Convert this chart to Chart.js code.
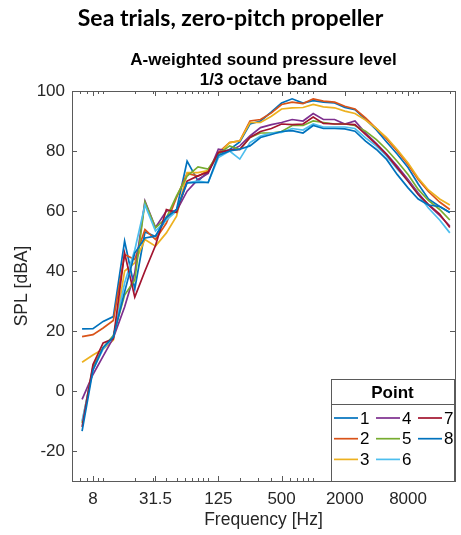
<!DOCTYPE html>
<html>
<head>
<meta charset="utf-8">
<script src="https://cdn.jsdelivr.net/npm/chart.js@4.4.0/dist/chart.umd.min.js"></script>
<style>
  html, body { margin: 0; padding: 0; background: #fff; }
  #wrap { position: relative; width: 461px; height: 535px; }
  #slideTitle { position: absolute; left: 0; top: 3px; width: 461px; text-align: center;
    font: bold 23px/28px Lato, "Open Sans", sans-serif; color: #000; z-index: 2; }
  #figTitle { position: absolute; left: 72px; top: 50px; width: 383px; text-align: center;
    font: bold 17px/20px "Liberation Sans", Arial, sans-serif; color: #000; z-index: 2; }
  #c { position: absolute; left: 0; top: 0; }
</style>
</head>
<body>
<div id="wrap">
  <div id="slideTitle">Sea trials, zero-pitch propeller</div>
  <div id="figTitle">A-weighted sound pressure level<br>1/3 octave band</div>
  <canvas id="c" width="461" height="535"></canvas>
</div>
<script>
// 1/3 octave band centre frequencies [Hz]
const bands = [6.3, 8, 10, 12.5, 16, 20, 25, 31.5, 40, 50, 63, 80, 100, 125, 160, 200, 250, 315,
  400, 500, 630, 800, 1000, 1250, 1600, 2000, 2500, 3150, 4000, 5000, 6300, 8000, 10000, 12500, 16000, 20000];

// SPL [dBA] per measurement point
const point1 = [20.7, 20.8, 23.2, 24.8, 50.0, 34.0, 53.0, 51.5, 57.5, 60.5, 76.6, 70.0, 73.0, 79.0, 80.5, 83.0,
  89.0, 90.0, 93.0, 96.0, 97.4, 96.0, 96.8, 96.3, 96.0,
  94.5, 93.8, 90.5, 87.0, 83.0, 79.0, 74.5, 69.0, 64.0, 61.5, 59.5];
const point2 = [18.1, 18.8, 21.0, 23.5, 45.5, 43.8, 53.8, 50.5, 56.0, 64.5, 72.5, 71.6, 73.5, 79.5, 82.8, 83.4,
  90.0, 90.5, 92.7, 95.5, 96.3, 95.8, 97.4, 96.6, 96.3,
  94.9, 94.0, 91.0, 87.5, 84.0, 80.0, 75.5, 70.5, 66.5, 63.0, 60.5];
const point3 = [9.6, 12.0, 14.0, 17.0, 40.0, 42.7, 50.5, 48.3, 52.7, 58.3, 72.8, 72.8, 73.5, 79.0, 82.8, 83.4,
  89.5, 89.5, 91.6, 94.0, 94.4, 94.5, 95.5, 94.7, 94.4,
  93.3, 92.5, 90.3, 87.5, 84.5, 80.5, 76.0, 71.0, 67.0, 64.0, 62.0];
const point4 = [-2.8, 5.5, 11.6, 17.7, 28.0, 39.4, 63.3, 54.5, 60.0, 60.0, 66.6, 70.5, 72.5, 80.6, 80.0, 81.7,
  85.0, 87.8, 88.8, 89.5, 90.5, 90.0, 92.5, 90.5, 90.5,
  89.0, 90.0, 86.0, 82.5, 79.0, 75.0, 70.5, 66.0, 62.0, 58.5, 55.0];
const point5 = [-10.6, 8.0, 14.5, 18.5, 32.0, 37.0, 63.0, 54.4, 57.7, 65.0, 71.6, 74.7, 74.0, 79.0, 81.7, 80.5,
  84.5, 86.0, 86.0, 86.5, 88.5, 88.5, 90.0, 89.5, 89.0,
  89.0, 88.5, 86.6, 83.8, 80.5, 76.6, 72.2, 67.2, 63.5, 60.5, 57.0];
const point6 = [-10.0, 7.0, 14.0, 18.0, 36.0, 47.0, 62.0, 53.3, 57.0, 60.0, 69.4, 70.0, 69.5, 77.8, 80.0, 77.3,
  82.8, 85.0, 86.0, 86.2, 87.5, 87.0, 89.0, 88.0, 88.0,
  88.0, 87.5, 84.4, 81.6, 78.3, 74.0, 70.0, 65.5, 61.0, 57.0, 52.7];
const point7 = [-12.0, 8.8, 16.0, 17.4, 46.0, 31.3, 40.0, 48.5, 60.5, 59.5, 70.0, 71.7, 73.0, 79.5, 80.3, 80.5,
  84.5, 86.5, 87.5, 89.0, 88.8, 89.0, 91.3, 89.2, 89.0,
  89.0, 88.8, 85.5, 82.2, 78.8, 74.4, 69.9, 65.5, 62.2, 59.0, 54.5];
const point8 = [-13.4, 7.0, 14.5, 18.0, 33.0, 46.0, 51.0, 51.6, 58.0, 60.5, 69.4, 69.5, 69.5, 78.5, 80.0, 80.6,
  81.7, 84.5, 85.5, 86.5, 86.8, 86.0, 88.5, 87.5, 87.5,
  87.4, 86.6, 83.3, 80.5, 77.2, 72.2, 67.7, 64.0, 62.0, 61.5, 59.5];

const pointNames = ['1', '2', '3', '4', '5', '6', '7', '8'];
const pointColors = ['#0072BD', '#D95319', '#EDB120', '#7E2F8E', '#77AC30', '#4DBEEE', '#A2142F', '#0072BD'];
const xTicks = [8, 31.5, 125, 500, 2000, 8000];
const yTicks = [-20, 0, 20, 40, 60, 80, 100];

const allPoints = [point1, point2, point3, point4, point5, point6, point7, point8];
const textColor = '#262626';
const tickFont = { family: '"Liberation Sans", Arial, sans-serif', size: 17 };
const labelFont = { family: '"Liberation Sans", Arial, sans-serif', size: 17.5 };

// inside ticks + box like matlab
const axesBox = {
  id: 'axesBox',
  afterDatasetsDraw(chart) {
    const { ctx, chartArea: a, scales: { x, y } } = chart;
    ctx.save();
    ctx.strokeStyle = '#5a5a5a';
    ctx.lineWidth = 1;
    const seg = (x1, y1, x2, y2) => { ctx.beginPath(); ctx.moveTo(x1, y1); ctx.lineTo(x2, y2); ctx.stroke(); };
    for (let e = 0; e <= 4; e++) {
      for (let k = 1; k <= 9; k++) {
        const v = k * Math.pow(10, e);
        if (v < x.min || v > x.max) continue;
        const px = Math.round(x.getPixelForValue(v)) + 0.5;
        seg(px, a.bottom, px, a.bottom - 3);
        seg(px, a.top, px, a.top + 3);
      }
    }
    xTicks.forEach(v => {
      const px = Math.round(x.getPixelForValue(v)) + 0.5;
      seg(px, a.bottom, px, a.bottom - 5);
      seg(px, a.top, px, a.top + 5);
    });
    yTicks.forEach(v => {
      const py = Math.round(y.getPixelForValue(v)) + 0.5;
      seg(a.left, py, a.left + 5, py);
      seg(a.right, py, a.right - 5, py);
    });
    ctx.strokeRect(Math.round(a.left) + 0.5, Math.round(a.top) + 0.5, Math.round(a.right - a.left), Math.round(a.bottom - a.top));
    ctx.restore();
  }
};

// legend box with title, 3 columns, filled column by column
const pointLegend = {
  id: 'pointLegend',
  afterDraw(chart) {
    const { ctx, chartArea: a } = chart;
    const sets = chart.data.datasets;
    const w = 123, h = 102;
    const x0 = Math.round(a.right) - w - 1, y0 = Math.round(a.bottom) - h;
    ctx.save();
    ctx.fillStyle = '#fff';
    ctx.fillRect(x0, y0, w, h);
    ctx.strokeStyle = '#5a5a5a';
    ctx.lineWidth = 1;
    ctx.strokeRect(x0 + 0.5, y0 + 0.5, w, h);
    ctx.beginPath(); ctx.moveTo(x0, y0 + 25.5); ctx.lineTo(x0 + w, y0 + 25.5); ctx.stroke();
    ctx.fillStyle = '#000';
    ctx.font = 'bold 17px "Liberation Sans", Arial, sans-serif';
    ctx.textAlign = 'center';
    ctx.textBaseline = 'middle';
    ctx.fillText('Point', x0 + w / 2, y0 + 14);
    ctx.font = '17px "Liberation Sans", Arial, sans-serif';
    ctx.textAlign = 'left';
    sets.forEach((ds, k) => {
      const col = Math.floor(k / 3), row = k % 3;
      const lx = x0 + 3 + col * 42, ly = y0 + 39 + row * 20.7;
      ctx.strokeStyle = ds.borderColor;
      ctx.lineWidth = 1.7;
      ctx.beginPath(); ctx.moveTo(lx, ly); ctx.lineTo(lx + 24, ly); ctx.stroke();
      ctx.fillStyle = '#000';
      ctx.fillText(ds.label, lx + 26, ly + 1);
    });
    ctx.restore();
  }
};

const datasets = allPoints.map((vals, k) => ({
  label: pointNames[k],
  data: bands.map((f, i) => ({ x: f, y: vals[i] })),
  borderColor: pointColors[k],
  backgroundColor: pointColors[k],
  borderWidth: 1.7,
  pointRadius: 0,
  tension: 0,
  order: 10 - k
}));

new Chart(document.getElementById('c'), {
  type: 'line',
  data: { datasets: datasets },
  options: {
    responsive: false,
    animation: false,
    layout: { padding: { left: 0, right: 6, top: 91, bottom: 4 } },
    plugins: {
      legend: { display: false },
      tooltip: { enabled: false },
      title: { display: false }
    },
    scales: {
      x: {
        type: 'logarithmic',
        min: 5.05,
        max: 22400,
        grid: { display: false, drawTicks: false },
        border: { display: false },
        afterBuildTicks: s => { s.ticks = xTicks.map(v => ({ value: v })); },
        afterFit: s => { s.height = 50; },
        ticks: { color: textColor, font: tickFont, padding: 8, autoSkip: false, maxRotation: 0,
          callback: v => String(v) },
        title: { display: true, text: 'Frequency [Hz]', color: textColor, font: labelFont, padding: { top: 0, bottom: 0 } }
      },
      y: {
        min: -30,
        max: 100,
        grid: { display: false, drawTicks: false },
        border: { display: false },
        afterBuildTicks: s => { s.ticks = yTicks.map(v => ({ value: v })); },
        afterFit: s => { s.width = 72; },
        ticks: { color: textColor, font: tickFont, padding: 7 },
        title: { display: true, text: 'SPL [dBA]', color: textColor, font: labelFont, padding: { top: 12, bottom: 0 } }
      }
    }
  },
  plugins: [axesBox, pointLegend]
});
</script>
</body>
</html>
